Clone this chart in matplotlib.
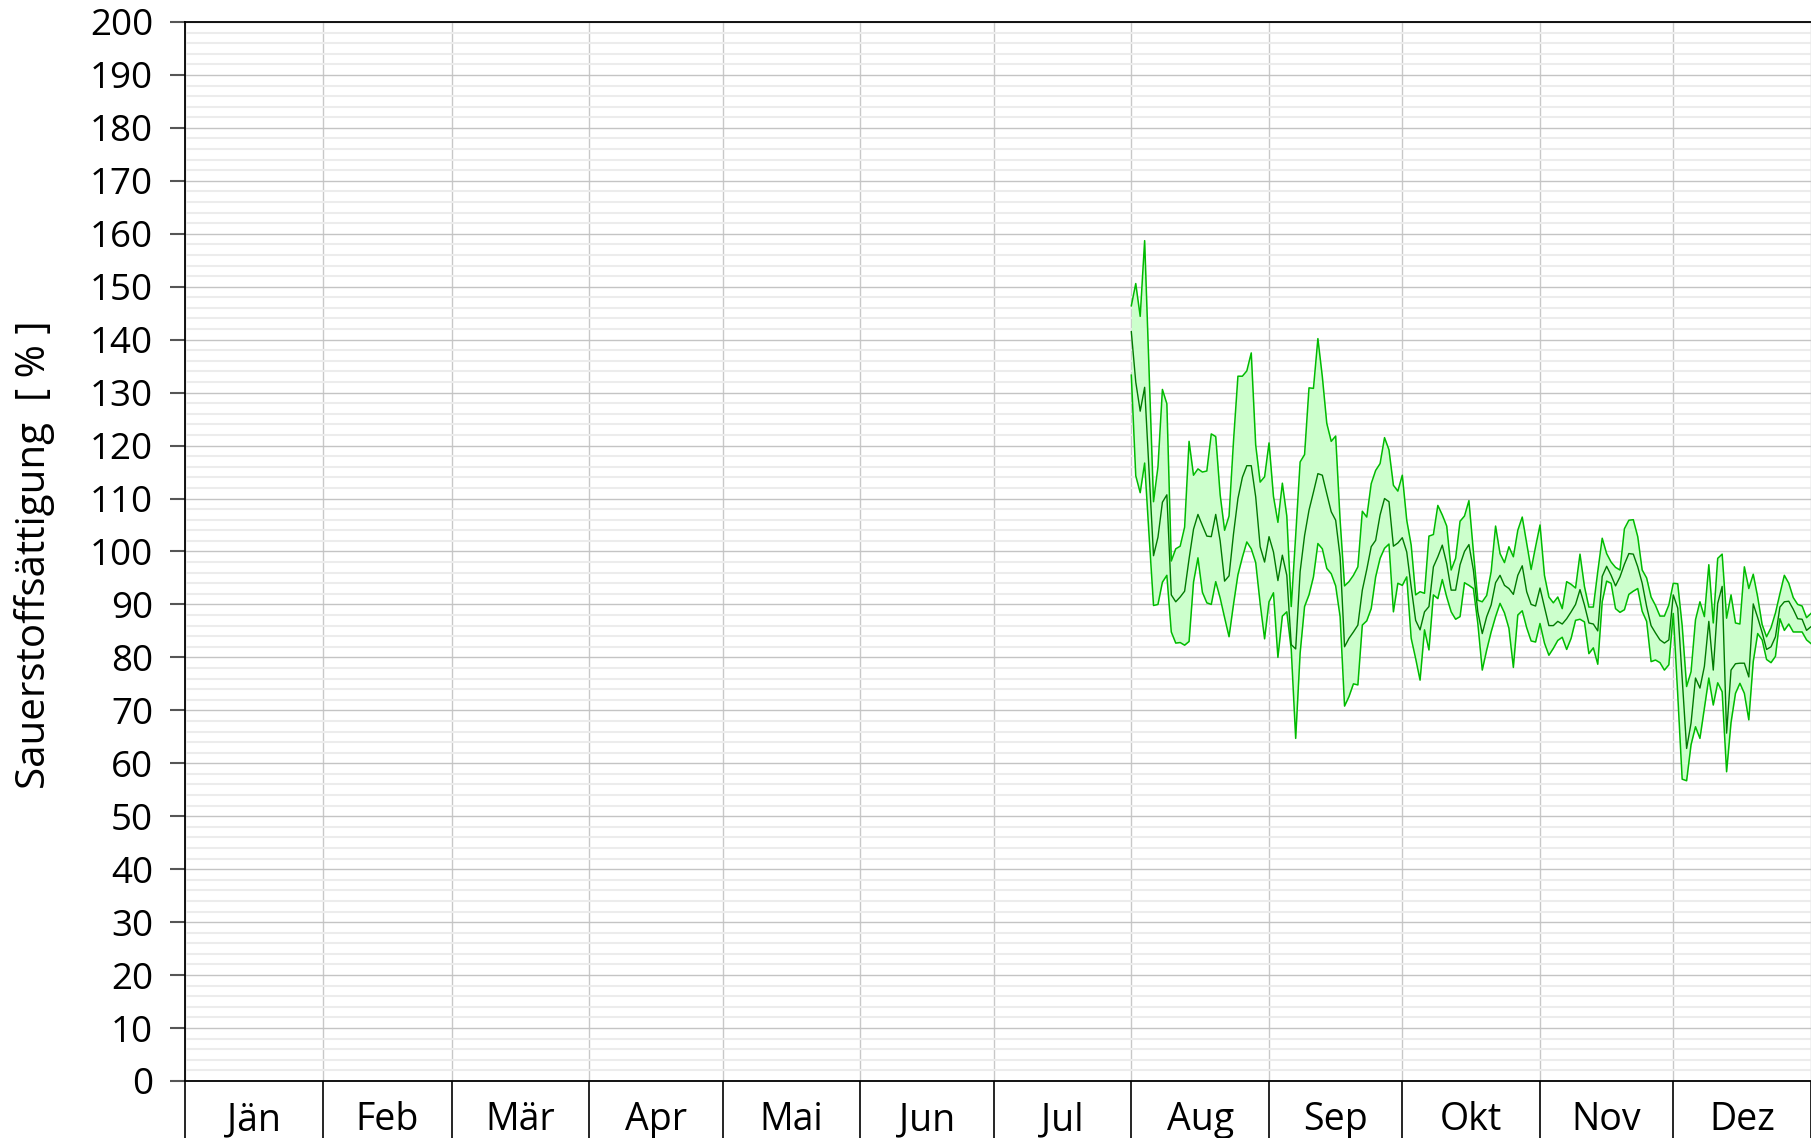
import numpy as np
import matplotlib.pyplot as plt
from matplotlib.ticker import MultipleLocator

# ------------------------- Data ------------------------- #
months = ["Jän", "Feb", "Mär", "Apr", "Mai", "Jun", "Jul", "Aug", "Sep", "Okt", "Nov", "Dez"]
month_days = [31, 29, 31, 30, 31, 30, 31, 31, 30, 31, 30, 31]  # leap year
first_day = 213  # 1. August, day of year (0-based)

# daily maximum / mean / minimum oxygen saturation [%]
sat_max = [
    146.4, 150.6, 144.4, 158.7, 134.0, 109.4, 116.0, 130.6, 127.9, 98.2,
    100.5, 101.0, 104.6, 120.8, 114.4, 115.6, 115.0, 115.2, 122.2, 121.7,
    110.7, 104.0, 106.7, 120.8, 133.1, 133.1, 134.1, 137.5, 120.1, 113.1,
    114.1, 120.5, 110.4, 105.5, 112.9, 106.7, 89.6, 103.0, 116.9, 118.3,
    130.9, 130.8, 140.2, 133.0, 124.2, 120.8, 121.8, 105.9, 93.5, 94.3,
    95.5, 97.1, 107.6, 106.5, 112.8, 115.3, 116.6, 121.5, 119.2, 112.5,
    111.4, 114.4, 105.9, 101.2, 91.8, 92.4, 92.1, 102.9, 103.2, 108.7,
    106.9, 104.8, 96.5, 98.7, 105.7, 106.7, 109.6, 100.0, 90.8, 90.5,
    91.7, 96.2, 104.8, 99.6, 97.9, 100.9, 99.0, 104.0, 106.5, 101.5,
    96.6, 100.9, 105.0, 95.5, 91.4, 90.3, 91.4, 89.2, 94.3, 93.8,
    93.1, 99.5, 93.4, 89.5, 89.5, 96.2, 102.5, 99.6, 98.0, 97.0,
    96.5, 104.3, 105.9, 106.0, 102.8, 96.5, 95.0, 91.4, 89.8, 87.8,
    87.8, 89.9, 94.0, 93.9, 86.0, 74.5, 77.3, 87.1, 90.5, 87.7,
    97.5, 86.5, 98.7, 99.5, 87.4, 91.8, 86.5, 86.3, 97.1, 93.0,
    95.7, 91.4, 86.2, 83.9, 85.6, 88.4, 92.0, 95.5, 94.0, 91.3,
    90.0, 89.7, 87.5, 88.3,
]
sat_mean = [
    141.5, 132.0, 126.5, 131.0, 115.0, 99.2, 102.7, 109.3, 110.7, 91.8,
    90.5, 91.4, 92.5, 98.6, 104.2, 107.0, 104.9, 102.9, 102.8, 107.0,
    102.0, 94.4, 95.4, 103.3, 110.0, 114.0, 116.2, 116.2, 110.3, 100.9,
    98.0, 102.8, 99.9, 94.5, 99.3, 95.5, 82.4, 81.6, 96.2, 103.0,
    107.8, 111.2, 114.7, 114.4, 110.9, 107.5, 105.9, 99.0, 82.0, 83.6,
    84.8, 86.1, 92.7, 96.6, 100.9, 102.1, 106.9, 110.0, 109.4, 101.0,
    101.6, 102.6, 99.9, 93.3, 87.0, 85.2, 88.6, 89.6, 97.1, 99.0,
    101.2, 97.7, 92.7, 92.7, 97.5, 100.0, 101.3, 96.5, 88.6, 84.5,
    87.7, 89.9, 94.1, 95.5, 93.6, 93.0, 91.9, 95.5, 97.3, 92.4,
    90.0, 89.7, 93.1, 89.5, 86.0, 86.0, 86.8, 86.3, 87.3, 88.6,
    90.0, 92.8, 89.9, 86.5, 86.3, 85.0, 95.3, 97.2, 95.5, 93.5,
    95.2, 97.6, 99.6, 99.5, 97.1, 94.0, 89.6, 86.0, 84.6, 83.3,
    82.7, 83.3, 91.8, 89.3, 76.0, 62.8, 67.6, 76.1, 74.2, 78.3,
    86.8, 77.6, 90.2, 93.4, 65.7, 77.6, 78.8, 78.9, 78.9, 76.3,
    90.1, 87.5, 84.7, 81.5, 82.0, 83.9, 89.5, 90.5, 90.6, 89.1,
    87.3, 87.2, 85.1, 85.8,
]
sat_min = [
    133.3, 114.3, 111.1, 116.7, 103.0, 89.8, 90.0, 94.2, 95.5, 84.8,
    82.7, 82.8, 82.3, 83.0, 94.2, 98.8, 92.3, 90.3, 90.0, 94.3,
    91.2, 87.5, 83.9, 90.0, 95.6, 98.9, 101.8, 100.5, 97.9, 90.2,
    83.5, 90.5, 92.2, 80.0, 87.8, 88.6, 81.5, 64.7, 80.8, 89.6,
    91.8, 95.2, 101.5, 100.5, 96.8, 95.8, 93.5, 87.7, 70.8, 72.6,
    75.0, 74.8, 86.1, 86.9, 89.2, 95.2, 98.7, 100.6, 101.4, 88.6,
    94.0, 93.6, 95.2, 83.6, 79.8, 75.7, 85.2, 81.4, 91.8, 91.1,
    94.7, 91.4, 88.6, 87.2, 87.7, 94.1, 93.6, 93.0, 86.4, 77.6,
    81.4, 84.8, 87.7, 90.2, 88.4, 85.5, 78.1, 88.0, 88.8, 85.6,
    83.1, 82.9, 86.4, 82.7, 80.4, 81.7, 83.2, 83.8, 81.5, 83.6,
    87.0, 87.2, 86.7, 80.7, 81.8, 78.7, 90.5, 94.4, 94.0, 89.2,
    88.5, 89.0, 91.9, 92.5, 93.0, 88.7, 86.8, 79.2, 79.5, 79.0,
    77.6, 78.6, 88.3, 73.0, 57.0, 56.7, 63.5, 66.9, 64.7, 70.4,
    76.1, 71.0, 75.2, 73.5, 58.4, 67.7, 73.2, 75.1, 73.2, 68.2,
    79.2, 84.5, 83.3, 79.6, 79.0, 80.2, 87.3, 85.1, 86.3, 84.8,
    84.8, 84.8, 83.3, 82.6,
]

# ------------------------- Plot ------------------------- #
plt.rcParams['font.family'] = ['Open Sans', 'DejaVu Sans']

days = np.arange(first_day, first_day + len(sat_mean))
month_edges = np.concatenate([[0], np.cumsum(month_days)])
month_centers = month_edges[:-1] + np.array(month_days) / 2

fig = plt.figure(figsize=(18.11, 11.38), dpi=100)
ax = fig.add_axes([0.1022, 0.0501, 0.8978, 0.9306])

# min-max band with mean line
ax.fill_between(days, sat_min, sat_max, color='#ccffcc', lw=0, zorder=2)
ax.plot(days, sat_max, color='#00bb00', lw=1.1, zorder=3)
ax.plot(days, sat_min, color='#00bb00', lw=1.1, zorder=3)
ax.plot(days, sat_mean, color='#007a00', lw=1.0, zorder=4)

ax.set_xlim(0, month_edges[-1])
ax.set_ylim(0, 200)

# grid
ax.set_yticks(range(0, 201, 10))
ax.yaxis.set_minor_locator(MultipleLocator(2))
ax.set_xticks(month_edges)
ax.grid(which='major', axis='y', color='#c4c4c4', lw=1.0, zorder=0)
ax.grid(which='minor', axis='y', color='#ececec', lw=1.5, zorder=0)
ax.grid(which='major', axis='x', color='#c8c8c8', lw=1.0, zorder=0)
ax.set_axisbelow(True)

ax.tick_params(axis='x', which='major', direction='out', length=41, width=1.2,
               color='black', labelbottom=False)
ax.tick_params(axis='y', which='major', direction='out', length=11, width=1.5,
               color='#555555', labelsize=26.5, pad=12)
ax.tick_params(which='minor', length=0)

for side in ['left', 'bottom', 'top']:
    ax.spines[side].set_color('black')
    ax.spines[side].set_linewidth(1.3)
ax.spines['right'].set_color('#c8c8c8')

# month names centred between the month boundaries
for name, xc in zip(months, month_centers):
    ax.text(xc, -0.0463, name, transform=ax.get_xaxis_transform(),
            ha='center', va='baseline', fontsize=27)

fig.text(0.019, 0.513, "Sauerstoffsättigung  [ % ]", rotation=90,
         ha='center', va='center', fontsize=29)

fig.savefig("out.png", dpi=100)
